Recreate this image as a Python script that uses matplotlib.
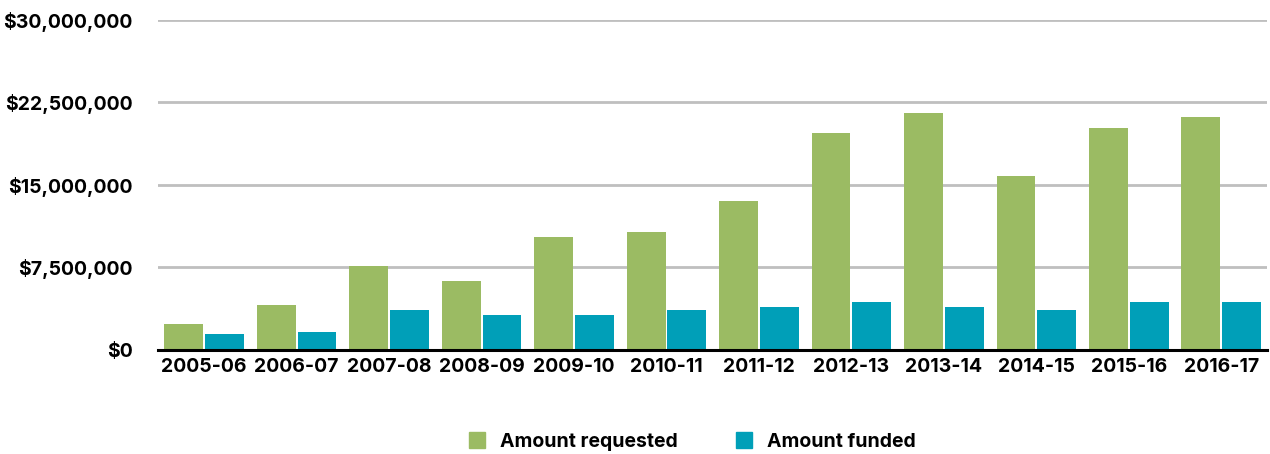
import numpy as np
import matplotlib
matplotlib.use("Agg")
import matplotlib.pyplot as plt
from matplotlib.patches import Patch
from matplotlib.ticker import FuncFormatter

# data
years = ["2005-06", "2006-07", "2007-08", "2008-09", "2009-10", "2010-11",
         "2011-12", "2012-13", "2013-14", "2014-15", "2015-16", "2016-17"]
requested = [2.32e6, 4.05e6, 7.6e6, 6.24e6, 10.25e6, 10.7e6,
             13.52e6, 19.7e6, 21.5e6, 15.8e6, 20.17e6, 21.2e6]
funded = [1.41e6, 1.59e6, 3.6e6, 3.14e6, 3.14e6, 3.6e6,
          3.87e6, 4.33e6, 3.87e6, 3.6e6, 4.33e6, 4.33e6]
yticks = [0, 7.5e6, 15e6, 22.5e6, 30e6]

green = "#9BBB63"
teal = "#009FB8"

plt.rcParams['font.family'] = ['Inter', 'DejaVu Sans']
plt.rcParams['font.weight'] = 'bold'

fig = plt.figure(figsize=(12.7, 4.54), dpi=100)
ax = fig.add_axes([0.1244, 0.230, 0.8736, 0.726])

x = np.arange(len(years))
w = 0.42
ax.bar(x - w / 2 - 0.01, requested, w, color=green, zorder=3)
ax.bar(x + w / 2 + 0.01, funded, w, color=teal, zorder=3)

ax.set_xlim(-0.5, len(years) - 0.5)
ax.set_ylim(0, 30e6)
ax.set_yticks(yticks)
ax.yaxis.set_major_formatter(FuncFormatter(lambda v, p: "${:,.0f}".format(v)))
ax.set_xticks(x)
ax.set_xticklabels(years)

ax.grid(axis='y', color="#BFBFBF", linewidth=2, zorder=0)
for s in ['top', 'right', 'left']:
    ax.spines[s].set_visible(False)
ax.spines['bottom'].set_linewidth(2.2)
ax.spines['bottom'].set_color('black')
ax.spines['bottom'].set_zorder(4)
ax.tick_params(axis='both', length=0, labelsize=14, labelcolor='black')
ax.tick_params(axis='y', pad=18)
ax.tick_params(axis='x', pad=6)

handles = [Patch(color=green, label="Amount requested"),
           Patch(color=teal, label="Amount funded")]
fig.legend(handles=handles, loc='center', bbox_to_anchor=(0.545, 0.027), ncol=2,
           frameon=False, fontsize=14, handlelength=0.85, handleheight=0.85,
           handletextpad=0.75, columnspacing=3.0)

fig.savefig("out.png", dpi=100)
